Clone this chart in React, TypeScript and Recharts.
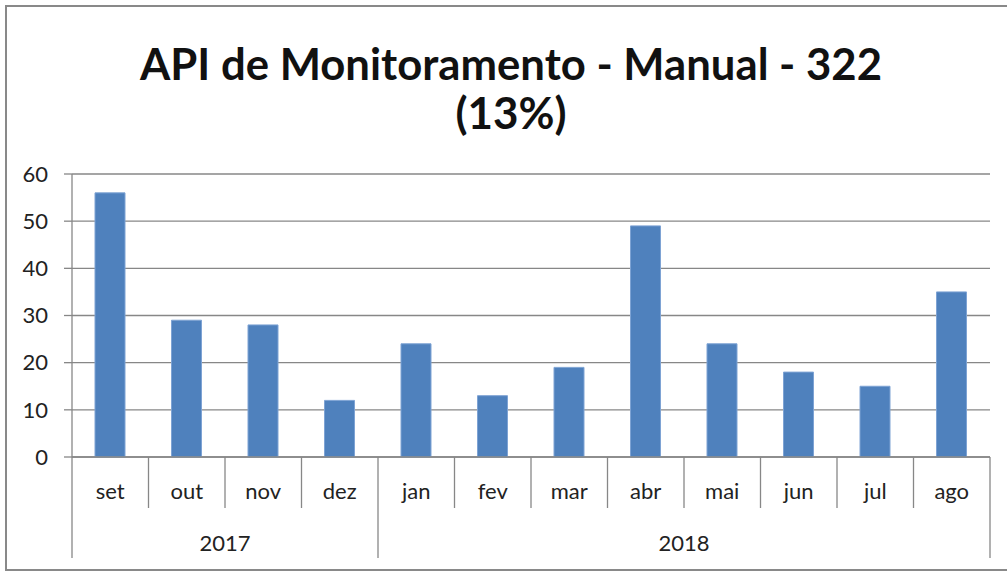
import { Bar, BarChart, CartesianGrid, XAxis, YAxis } from "recharts";

const months = ["set", "out", "nov", "dez", "jan", "fev", "mar", "abr", "mai", "jun", "jul", "ago"];
const years = ["2017", "2017", "2017", "2017", "2018", "2018", "2018", "2018", "2018", "2018", "2018", "2018"];
const counts = [56, 29, 28, 12, 24, 13, 19, 49, 24, 18, 15, 35];
const yTicks = [0, 10, 20, 30, 40, 50, 60];

const data = months.map((m, i) => ({ month: m, year: years[i], value: counts[i] }));

const W = 1007;
const H = 572;
const yAxisW = 72;
const xAxisH = 115;
const margin = { top: 174, right: 17, bottom: 0, left: 0 };
const band = (W - yAxisW - margin.right) / months.length;
const grey = "#878787";
const font = "Lato, 'Noto Sans', sans-serif";

function MonthTick(props: any) {
  const { x, y, index } = props;
  const left = x - band / 2;
  const yearStart = index === 0 || years[index] !== years[index - 1];
  const groupSize = years.filter((yr) => yr === years[index]).length;
  const last = index === months.length - 1;
  return (
    <g>
      <line x1={left} x2={left} y1={y} y2={y + (yearStart ? 101 : 51)} stroke={grey} strokeWidth={1.3} />
      {last && <line x1={x + band / 2} x2={x + band / 2} y1={y} y2={y + 101} stroke={grey} strokeWidth={1.3} />}
      <text x={x} y={y + 42} textAnchor="middle" fontSize={22} fill="#222" fontFamily={font}>
        {months[index]}
      </text>
      {yearStart && (
        <text x={left + (groupSize * band) / 2} y={y + 94} textAnchor="middle" fontSize={22} fill="#222" fontFamily={font}>
          {years[index]}
        </text>
      )}
    </g>
  );
}

export default function App() {
  return (
    <div style={{ position: "absolute", left: 0, top: 0, width: W, height: H, background: "#fff" }}>
      <BarChart width={W} height={H} data={data} margin={margin}>
        <CartesianGrid vertical={false} stroke={grey} strokeWidth={1.3} />
        <XAxis
          dataKey="month"
          height={xAxisH}
          stroke={grey}
          strokeWidth={1.3}
          tickLine={false}
          tickSize={0}
          tickMargin={0}
          tick={<MonthTick />}
          interval={0}
        />
        <YAxis
          domain={[0, 60]}
          ticks={yTicks}
          stroke={grey}
          strokeWidth={1.3}
          tickSize={8}
          tickMargin={16}
          tick={{ fontSize: 22, fill: "#222", fontFamily: font }}
          width={yAxisW}
        />
        <Bar dataKey="value" fill="#4F81BD" stroke="#7ea3d4" strokeWidth={1} barSize={30} isAnimationActive={false} />
      </BarChart>
      <svg width={W} height={H} style={{ position: "absolute", left: 0, top: 0, pointerEvents: "none" }}>
        <rect x={6} y={6} width={W + 10} height={564} fill="none" stroke="#898989" strokeWidth={2} />
        <text
          x={511}
          y={80}
          textAnchor="middle"
          fontSize={44}
          fontWeight="bold"
          fill="#111"
          fontFamily={font}
          textLength={742}
          lengthAdjust="spacingAndGlyphs"
        >
          API de Monitoramento - Manual - 322
        </text>
        <text
          x={511}
          y={129}
          textAnchor="middle"
          fontSize={44}
          fontWeight="bold"
          fill="#111"
          fontFamily={font}
          textLength={111}
          lengthAdjust="spacingAndGlyphs"
        >
          (13%)
        </text>
      </svg>
    </div>
  );
}
